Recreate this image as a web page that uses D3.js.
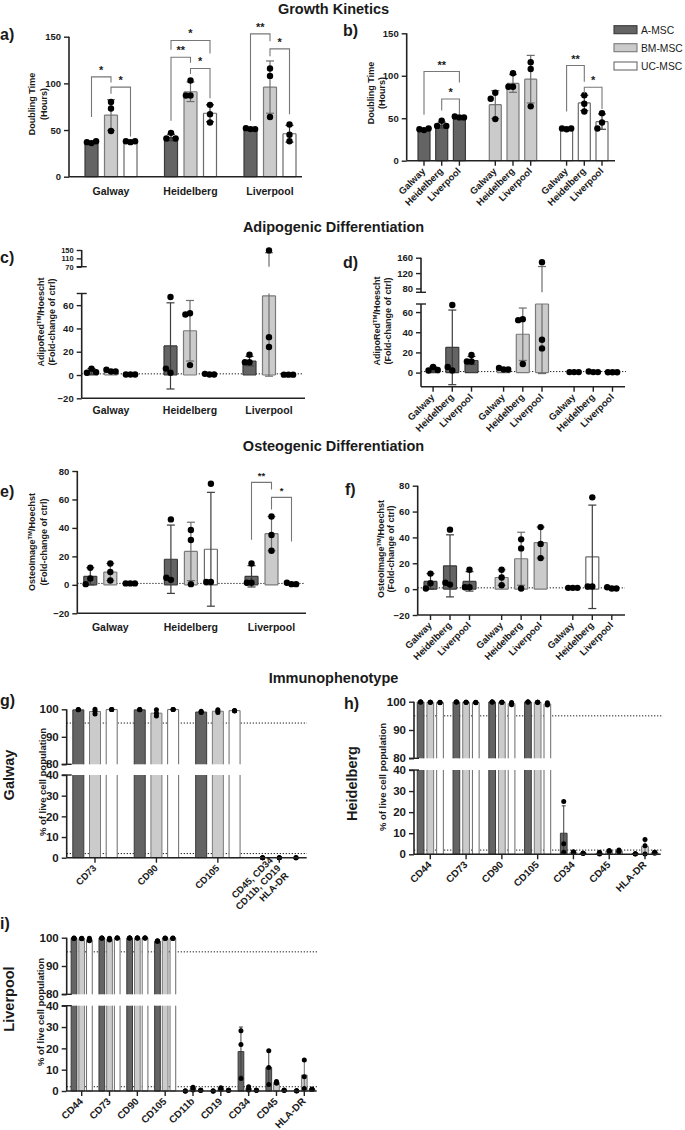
<!DOCTYPE html>
<html><head><meta charset="utf-8">
<script src="https://cdn.jsdelivr.net/npm/d3@7"></script>
<style>body{margin:0;background:#fff}svg{display:block}text{font-family:"Liberation Sans",Arial,sans-serif}</style>
</head><body>
<svg id="c" width="685" height="1130"></svg>
<script>
// ---------------- DATA ----------------
const sites = ["Galway","Heidelberg","Liverpool"];
const cells = ["A-MSC","BM-MSC","UC-MSC"];
const titles = ["Growth Kinetics","Adipogenic Differentiation","Osteogenic Differentiation","Immunophenotype"];

// rows = cells (A, BM, UC), cols = sites (Galway, Heidelberg, Liverpool)
const growthMean = [[37,42,51],[66,91,96],[38,68,46]];
const growthSD   = [[1,3.5,1],[16.5,10.5,28],[1,9,9]];
const growthPts  = [
  [[36,37,38],[47,41,41],[51,52,51]],
  [[80,73,49],[103,87,87],[116,108,64]],
  [[37,38,38],[77,67,58],[56,45,38]]
];
const adipoMean = [[3,25,12],[3.5,38,68],[0.5,0.6,0.3]];
const adipoSD   = [[2.5,37,4],[1,26,69],[0.2,0.3,0.1]];
const adipoPts  = [
  [[5.5,2,2.5],[67,2,5.5],[17.5,11,11]],
  [[3,4.5,3],[53,52,8.5],[148,32.5,24]],
  [[0.5,0.5,0.5],[0.5,1,0.5],[0.3,0.3,0.3]]
];
const osteoMean = [[6,18,6],[9,23.5,36],[1,25,1]];
const osteoSD   = [[6,24,7.5],[6,20.5,12],[0.2,40,0.5]];
const osteoPts  = [
  [[12,4.5,0.5],[46,3.5,5],[15,1.5,1.5]],
  [[15,9,3],[38.5,31.5,0.5],[48,35,24]],
  [[1,1,1],[71,2,2],[0.5,1.5,0.5]]
];
// significance brackets: [group, i, j, top, leg1 bottom, leg2 bottom, label]
const sigGrowthBySite = [
  ["Galway",0,1,107,64,101,"*"],["Galway",1,2,96,89,43,"*"],
  ["Heidelberg",0,2,146,136,132,"*"],["Heidelberg",0,1,128,60,122,"**"],["Heidelberg",1,2,116,110,84,"*"],
  ["Liverpool",0,1,153,60,145,"**"],["Liverpool",1,2,137,129,67,"*"]
];
const sigGrowthByCell = [
  ["A-MSC",0,2,105,54,92,"**"],["A-MSC",1,2,72.6,59,55,"*"],
  ["UC-MSC",0,1,112,58,93,"**"],["UC-MSC",1,2,86.4,79,61,"*"]
];
const sigOsteo = [["Liverpool",0,1,72,31.7,67,"**"],["Liverpool",1,2,61.5,53,30.5,"*"]];

// Immunophenotype (% of live cells): rows = cells, cols = markers
const galwayMarkers = ["CD73","CD90","CD105","CD45, CD34\nCD11b, CD19\nHLA-DR"];
const galwayMean = [[99.8,99.8,99.0,0],[99.2,98.6,99.3,0],[99.9,99.9,99.5,0]];
const galwaySD   = [[0.1,0.1,0.3,0],[0.8,1.2,0.5,0.3],[0.05,0.05,0.1,0]];
const galwayPts  = [
  [[99.9,99.8,99.8],[99.9,99.8,99.8],[99.3,98.8,99.0],[0,0,0]],
  [[100,99.3,98.3],[99.8,98.6,97.6],[99.8,99.4,98.8],[0,0,0]],
  [[99.9,99.9,99.9],[99.9,99.9,99.9],[99.6,99.5,99.4],[0,0,0]]
];
const heidMarkers = ["CD44","CD73","CD90","CD105","CD34","CD45","HLA-DR"];
const heidMean = [[99.9,99.9,99.9,99.9,10,0.5,0.3],[99.8,99.8,99.8,99.8,1,1.5,3.7],[99.7,99.7,99.3,99.2,0.5,1.5,0.8]];
const heidSD   = [[0.1,0.1,0.1,0.1,13,0.5,0.2],[0.1,0.1,0.1,0.1,0.8,0.3,3.5],[0.2,0.2,0.5,0.6,0.2,0.5,0.3]];
const heidPts  = [
  [[99.9,99.9,99.9],[99.9,99.9,99.9],[99.9,99.9,99.9],[99.9,99.9,99.9],[25,5,1],[1,0.2,0.4],[0.3,0.2,0.3]],
  [[99.8,99.8,99.8],[99.8,99.8,99.8],[99.8,99.8,99.8],[99.8,99.8,99.8],[1.2,1,0.8],[1.8,1.5,1.2],[7,4,0.1]],
  [[99.8,99.7,99.6],[99.8,99.7,99.6],[99.7,99.3,98.9],[99.6,99.2,98.8],[0.5,0.5,0.5],[2,1,1.5],[1,0.5,1]]
];
const livMarkers = ["CD44","CD73","CD90","CD105","CD11b","CD19","CD34","CD45","HLA-DR"];
const livMean = [[99.8,99.9,99.9,98.8,0,0,18.5,11,0.1],[99.7,99.5,99.9,99.8,1.2,1.1,1.2,4,7.5],[99.3,99.9,99.9,99.8,0.3,0.3,0.3,0.3,0.8]];
const livSD   = [[0.1,0.1,0.1,0.2,0,0,11.5,7.9,0.1],[0.2,0.3,0.1,0.1,0.6,0.5,0.7,0.5,6.7],[0.4,0.1,0.1,0.1,0.1,0.1,0.1,0.1,0.2]];
const livPts  = [
  [[99.9,99.8,99.7],[99.9,99.9,99.8],[99.9,99.9,99.9],[98.9,98.8,98.7],[0,0,0],[0,0,0],[28.2,21.8,5.9],[18.9,11,3.1],[0.1,0,0.1]],
  [[99.8,99.7,99.6],[99.8,99.5,99.2],[99.9,99.9,99.9],[99.9,99.8,99.7],[1.8,1.2,0.5],[1.5,1.1,0.8],[2,1,0.5],[4.5,3.7,3.8],[14.5,6.7,1.2]],
  [[99.8,99.2,98.9],[99.9,99.9,99.9],[99.9,99.9,99.9],[99.9,99.8,99.7],[0.3,0.3,0.3],[0.3,0.3,0.3],[0.3,0.3,0.3],[0.3,0.3,0.3],[0.8,0.8,0.8]]
];

// ---------------- DRAWING ----------------
const svg = d3.select("#c");
const T = "#1a1a1a";
const FILL = {"A-MSC":"#646464","BM-MSC":"#cbcbcb","UC-MSC":"#ffffff"};
const STROKE = {"A-MSC":"#3a3a3a","BM-MSC":"#7a7a7a","UC-MSC":"#6a6a6a"};

function makeSegs(segs){ segs.forEach(s=>{ s.sc = d3.scaleLinear().domain(s.dom).range(s.rng); }); return segs; }
function segFor(segs,v){ return segs.find(s=>v>=s.dom[0]-1e-9 && v<=s.dom[1]+1e-9); }

function txt(g,x,y,s,o={}){
  return g.append("text").attr("x",x).attr("y",y).text(s)
    .attr("font-size",o.fs||10).attr("font-weight",o.fw||"bold")
    .attr("text-anchor",o.anchor||"middle").attr("fill",T);
}
function rotLabel(g,x,yc,parts,fs){
  const t = g.append("text").attr("transform",`translate(${x},${yc}) rotate(-90)`)
    .attr("text-anchor","middle").attr("font-size",fs).attr("font-weight","bold").attr("fill",T);
  parts.forEach(p=>{
    if (typeof p === "string") t.append("tspan").text(p);
    else t.append("tspan").attr("baseline-shift","super").attr("font-size",fs*0.65).text(p.sup);
  });
}
function rotX(g,x,y,label,fs){
  const lines = label.split("\n"), n = lines.length;
  const t = g.append("text").attr("transform",`translate(${x+2},${y+11}) rotate(-45)`)
    .attr("text-anchor","end").attr("font-size",fs).attr("font-weight","bold").attr("fill",T);
  lines.forEach((l,i)=>t.append("tspan").attr("x",0).attr("y",(i-(n-1)/2)*fs*1.15).text(l));
}

function drawYAxis(g,segs,x,fs){
  segs.forEach((s,i)=>{
    g.append("line").attr("x1",x).attr("x2",x).attr("y1",s.rng[0]).attr("y2",s.rng[1])
      .attr("stroke","#222").attr("stroke-width",1.6);
    const ag = g.append("g").attr("transform",`translate(${x},0)`)
      .call(d3.axisLeft(s.sc).tickValues(s.ticks).tickSize(5).tickPadding(3).tickFormat(d3.format("d")));
    ag.select(".domain").remove();
    ag.selectAll("line").attr("stroke","#222").attr("stroke-width",1.4);
    ag.selectAll("text").attr("font-size",fs).attr("font-weight","bold").attr("fill",T)
      .attr("font-family","'Liberation Sans',Arial,sans-serif");
    if (segs.length>1){
      const ends = [];
      if (i>0) ends.push(s.rng[0]);
      if (i<segs.length-1) ends.push(s.rng[1]);
      ends.forEach(yy=>g.append("line").attr("x1",x-5).attr("x2",x+5).attr("y1",yy).attr("y2",yy)
        .attr("stroke","#222").attr("stroke-width",1.4));
    }
  });
}

function drawBars(g,segs,items,P){
  items.forEach(it=>{
    const w = P.bw, x0 = it.x - w/2;
    const lo = Math.min(0,it.mean), hi = Math.max(0,it.mean);
    segs.forEach(s=>{
      const a = Math.max(lo,s.dom[0]), b = Math.min(hi,s.dom[1]);
      if (b<=a) return;
      const yT = s.sc(b), yB = s.sc(a);
      g.append("rect").attr("x",x0).attr("y",yT).attr("width",w).attr("height",yB-yT).attr("fill",FILL[it.cell]);
      let p = `M${x0},${yB}V${yT}M${x0+w},${yB}V${yT}`;
      if (b===hi) p += `M${x0},${yT}H${x0+w}`;
      if (a===lo) p += `M${x0},${yB}H${x0+w}`;
      g.append("path").attr("d",p).attr("fill","none").attr("stroke",STROKE[it.cell]).attr("stroke-width",P.sw);
    });
  });
}
function drawErr(g,segs,items,P){
  items.forEach(it=>{
    if (!it.sd) return;
    const lo = it.mean - it.sd, hi = it.mean + it.sd;
    const col = it.cell==="BM-MSC" ? "#6e6e6e" : "#3c3c3c";
    segs.forEach(s=>{
      const a = Math.max(lo,s.dom[0]), b = Math.min(hi,s.dom[1]);
      if (b<=a) return;
      g.append("line").attr("x1",it.x).attr("x2",it.x).attr("y1",s.sc(a)).attr("y2",s.sc(b))
        .attr("stroke",col).attr("stroke-width",P.ew);
      [[b,hi],[a,lo]].forEach(([v,e])=>{
        if (v===e) g.append("line").attr("x1",it.x-P.cap/2).attr("x2",it.x+P.cap/2)
          .attr("y1",s.sc(v)).attr("y2",s.sc(v)).attr("stroke",col).attr("stroke-width",P.ew);
      });
    });
  });
}
function drawPts(g,segs,items,P){
  items.forEach(it=>{
    const placed = [];
    it.pts.forEach(v=>{
      const s = segFor(segs,v); if (!s) return;
      const y = s.sc(v);
      let dx = 0;
      if (P.spread){
        for (const k of [0,-1,1,-2,2]){
          const c = k*P.spread;
          if (placed.every(p=>!(Math.abs(p.x-c) < P.spread*0.9 && Math.abs(p.y-y) < P.r*2))){ dx = c; break; }
        }
      }
      placed.push({x:dx,y});
      g.append("circle").attr("cx",it.x+dx).attr("cy",y).attr("r",P.r).attr("fill","#000");
    });
  });
}

function panel(P){
  const g = svg.append("g");
  const segs = makeSegs(P.segs);
  (P.refs||[]).forEach(v=>{
    const s = segFor(segs,v);
    g.append("line").attr("x1",P.ax).attr("x2",P.refEnd).attr("y1",s.sc(v)).attr("y2",s.sc(v))
      .attr("stroke","#222").attr("stroke-width",1).attr("stroke-dasharray","1.3,1.7");
  });
  drawBars(g,segs,P.items,P);
  drawErr(g,segs,P.items,P);
  drawPts(g,segs,P.items,P);
  const yb = segs[0].rng[0];
  g.append("line").attr("x1",P.ax).attr("x2",P.xEnd).attr("y1",yb).attr("y2",yb)
    .attr("stroke","#222").attr("stroke-width",1.6);
  drawYAxis(g,segs,P.ax,P.tfs);
  (P.xticks||[]).forEach(t=>{
    g.append("line").attr("x1",t.x).attr("x2",t.x).attr("y1",yb).attr("y2",yb+5)
      .attr("stroke","#222").attr("stroke-width",1.4);
    rotX(g,t.x,yb,t.label,P.xfs);
  });
  return {g,segs};
}
function sig(g,sc,xa,xb,top,b1,b2,label,fs){
  g.append("path").attr("d",`M${xa},${sc(b1)}V${sc(top)}H${xb}V${sc(b2)}`)
    .attr("fill","none").attr("stroke","#777").attr("stroke-width",1.1);
  txt(g,(xa+xb)/2,sc(top)-3,label,{fs:fs});
}

// items builders
function bySite(mean,sd,pts,gx,off){
  const items=[];
  cells.forEach((c,ci)=>sites.forEach((s,si)=>items.push({cell:c,x:gx(s)+off(c),mean:mean[ci][si],sd:sd[ci][si],pts:pts[ci][si]})));
  return items;
}
function byCell(mean,sd,pts,cx,off){
  const items=[];
  cells.forEach((c,ci)=>sites.forEach((s,si)=>items.push({cell:c,site:s,x:cx(c)+off(s),mean:mean[ci][si],sd:sd[ci][si],pts:pts[ci][si]})));
  return items;
}
function byMarker(markers,mean,sd,pts,mx,off){
  const items=[];
  cells.forEach((c,ci)=>markers.forEach((m,mi)=>items.push({cell:c,x:mx(m)+off(c),mean:mean[ci][mi],sd:sd[ci][mi],pts:pts[ci][mi]})));
  return items;
}

// ---- titles ----
const tg = svg.append("g");
[[titles[0],13.5],[titles[1],232],[titles[2],451],[titles[3],683]].forEach(([t,y])=>txt(tg,333.5,y,t,{fs:14.5}));
[["a)",0,40],["b)",343,36],["c)",0,263],["d)",343,268],["e)",0,497],["f)",345,495],["g)",0,706],["h)",344,709],["i)",0,929]]
  .forEach(([t,x,y])=>txt(tg,x,y,t,{fs:16,anchor:"start"}));

const barOpt = {bw:13, sw:1.2, ew:1.2, cap:8, r:3.2, spread:4.6, tfs:9.5, xfs:9.5};

// ---- a) ----
{
  const gx = d3.scalePoint().domain(sites).range([111,270]);
  const off = d3.scalePoint().domain(cells).range([-19.5,19.5]);
  const {g,segs} = panel({...barOpt, ax:69, xEnd:302,
    segs:[{dom:[0,150],rng:[176.7,36.7],ticks:[0,50,100,150]}],
    items: bySite(growthMean,growthSD,growthPts,gx,off)});
  sites.forEach(s=>txt(g,gx(s),195,s,{fs:10.5}));
  sigGrowthBySite.forEach(([s,i,j,top,b1,b2,l])=>sig(g,segs[0].sc,gx(s)+off(cells[i]),gx(s)+off(cells[j]),top,b1,b2,l,11));
  rotLabel(g,35,104,["Doubling Time"],9);
  rotLabel(g,47,104,["(Hours)"],9);
}
// ---- b) ----
{
  const cx = d3.scalePoint().domain(cells).range([441.7,584.3]);
  const off = d3.scalePoint().domain(sites).range([-17.7,17.7]);
  const items = byCell(growthMean,growthSD,growthPts,cx,off);
  const {g,segs} = panel({...barOpt, bw:12, ax:406.7, xEnd:615,
    segs:[{dom:[0,150],rng:[160.7,33.3],ticks:[0,50,100,150]}],
    items, xticks: items.map(d=>({x:d.x,label:d.site}))});
  sigGrowthByCell.forEach(([c,i,j,top,b1,b2,l])=>sig(g,segs[0].sc,cx(c)+off(sites[i]),cx(c)+off(sites[j]),top,b1,b2,l,11));
  rotLabel(g,373.5,93,["Doubling Time"],9);
  rotLabel(g,385,93,["(Hours)"],9);
  // legend
  cells.forEach((c,i)=>{
    const y = [29.7,47.7,66][i];
    g.append("rect").attr("x",614).attr("y",y-4).attr("width",23).attr("height",8)
      .attr("fill",FILL[c]).attr("stroke",STROKE[c]).attr("stroke-width",1.1);
    txt(g,641,y+4,c,{fs:10.3,fw:"normal",anchor:"start"});
  });
}
// ---- c) ----
{
  const gx = d3.scalePoint().domain(sites).range([111,269]);
  const off = d3.scalePoint().domain(cells).range([-19.5,19.5]);
  const {g} = panel({...barOpt, ax:81.7, xEnd:305, refs:[1], refEnd:302,
    segs:[{dom:[-20,70],rng:[398.3,293.5],ticks:[-20,0,20,40,60]},{dom:[70,150],rng:[266.7,250],ticks:[70,110,150]}],
    items: bySite(adipoMean,adipoSD,adipoPts,gx,off)});
  g.selectAll("g.tick text").filter(function(){return +this.textContent>=70;}).attr("font-size",7.5);
  sites.forEach(s=>txt(g,gx(s),414,s,{fs:10.5}));
  rotLabel(g,43.5,322,["AdipoRed",{sup:"TM"},"/Hoescht"],9);
  rotLabel(g,55,322,["(Fold-change of ctrl)"],9);
}
// ---- d) ----
{
  const cx = d3.scalePoint().domain(cells).range([452.3,593.3]);
  const off = d3.scalePoint().domain(sites).range([-19.2,19.2]);
  const items = byCell(adipoMean,adipoSD,adipoPts,cx,off);
  const {g} = panel({...barOpt, ax:421, xEnd:625, refs:[1], refEnd:626,
    segs:[{dom:[-14,68],rng:[386.7,304],ticks:[0,20,40,60]},{dom:[70,160],rng:[292.3,257.7],ticks:[80,120,160]}],
    items, xticks: items.map(d=>({x:d.x,label:d.site}))});
  rotLabel(g,380,321,["AdipoRed",{sup:"TM"},"/Hoescht"],9);
  rotLabel(g,391,321,["(Fold-change of ctrl)"],9);
}
// ---- e) ----
{
  const gx = d3.scalePoint().domain(sites).range([110.3,271.5]);
  const off = d3.scalePoint().domain(cells).range([-20,20]);
  const {g,segs} = panel({...barOpt, ax:77.3, xEnd:306, refs:[1], refEnd:305,
    segs:[{dom:[-20,80],rng:[613.3,471],ticks:[-20,0,20,40,60,80]}],
    items: bySite(osteoMean,osteoSD,osteoPts,gx,off)});
  sites.forEach(s=>txt(g,gx(s),631,s,{fs:10.5}));
  sigOsteo.forEach(([s,i,j,top,b1,b2,l])=>sig(g,segs[0].sc,gx(s)+off(cells[i]),gx(s)+off(cells[j]),top,b1,b2,l,9.5));
  rotLabel(g,35,542,["OsteoImage",{sup:"TM"},"/Hoechst"],9);
  rotLabel(g,46.5,542,["(Fold-change of ctrl)"],9);
}
// ---- f) ----
{
  const cx = d3.scalePoint().domain(cells).range([450,592.3]);
  const off = d3.scalePoint().domain(sites).range([-19.5,19.5]);
  const items = byCell(osteoMean,osteoSD,osteoPts,cx,off);
  const {g} = panel({...barOpt, ax:417.7, xEnd:625, refs:[1], refEnd:625,
    segs:[{dom:[-20,80],rng:[615,485.7],ticks:[-20,0,20,40,60,80]}],
    items, xticks: items.map(d=>({x:d.x,label:d.site}))});
  rotLabel(g,384,549,["OsteoImage",{sup:"TM"},"/Hoechst"],9);
  rotLabel(g,394,549,["(Fold-change of ctrl)"],9);
}
// ---- immunophenotype ----
const immOpt = {sw:1, ew:1, cap:4, r:2.5, spread:0, tfs:11.5};
function immPanel(markers,mean,sd,pts,geo){
  const mx = d3.scalePoint().domain(markers).range(geo.cat);
  const off = d3.scalePoint().domain(cells).range([-geo.off,geo.off]);
  const {g} = panel({...immOpt, bw:geo.bw, xfs:geo.xfs, ax:geo.ax, xEnd:geo.xEnd, refs:[95,2], refEnd:geo.refEnd,
    segs:[{dom:[0,40],rng:geo.low,ticks:[0,10,20,30,40]},{dom:[80,100],rng:geo.up,ticks:[80,90,100]}],
    items: byMarker(markers,mean,sd,pts,mx,off),
    xticks: markers.map(m=>({x:mx(m),label:m}))});
  rotLabel(g,geo.pl[0],geo.pl[1],["%  of live cell population"],9.5);
  rotLabel(g,geo.site[0],geo.site[1],[geo.siteName],14.5);
}
immPanel(galwayMarkers,galwayMean,galwaySD,galwayPts,
  {cat:[95,279.3],off:16.7,bw:11,xfs:9.5,ax:66.7,xEnd:306.7,refEnd:307,low:[857.7,775],up:[764.3,709.3],pl:[46,782],site:[13.5,775],siteName:"Galway"});
immPanel(heidMarkers,heidMean,heidSD,heidPts,
  {cat:[430.3,645],off:9.7,bw:6.7,xfs:10,ax:414,xEnd:660.7,refEnd:661.7,low:[854.3,770],up:[758.3,701.7],pl:[386,777],site:[357,783.5],siteName:"Heidelberg"});
immPanel(livMarkers,livMean,livSD,livPts,
  {cat:[81.7,304.3],off:7.7,bw:5.7,xfs:10,ax:66.7,xEnd:316.7,refEnd:318,low:[1091,1005.7],up:[994.3,937.7],pl:[43.5,1012],site:[13.5,999],siteName:"Liverpool"});
</script>
</body></html>
